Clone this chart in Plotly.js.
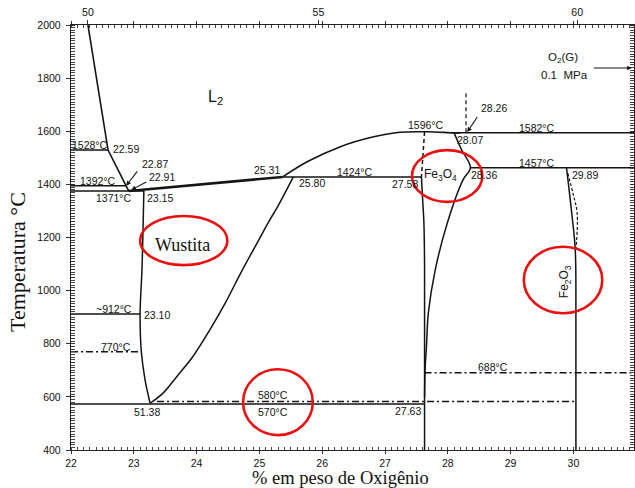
<!DOCTYPE html>
<html>
<head>
<meta charset="utf-8">
<script src="https://cdn.plot.ly/plotly-3.0.1.min.js"></script>
<style>html,body{margin:0;padding:0;background:#fff;}#chart{width:635px;height:488px;}</style>
</head>
<body>
<div id="chart"></div>
<script>
// ---- Phase boundary data (wt% O, °C) ----
const liqLeftX = [22.27, 22.59, 22.92];
const liqLeftY = [2000, 1529, 1375];

const h1528X = [22.0, 22.59];   const h1528Y = [1529, 1529];
const h1392X = [22.0, 22.88];   const h1392Y = [1395, 1395];
const h1371X = [22.0, 23.16];   const h1371Y = [1375, 1375];
const h912X  = [22.0, 23.10];   const h912Y  = [912, 912];
const h770X  = [22.0, 23.12];   const h770Y  = [770, 770];
const h570X  = [22.0, 27.63];   const h570Y  = [573, 573];
const h580X  = [23.37, 30.04];  const h580Y  = [583, 583];
const h680X  = [27.63, 30.97];  const h680Y  = [691, 691];
const h1424X = [25.37, 27.58];  const h1424Y = [1428, 1428];
const h1582X = [28.10, 30.97];  const h1582Y = [1594, 1594];
const h1457X = [28.36, 30.97];  const h1457Y = [1463, 1463];

const wusLiqX = [22.92, 25.37];
const wusLiqY = [1375, 1428];

const wusLeftX = [23.16, 23.13, 23.10, 23.12, 23.18, 23.26];
const wusLeftY = [1375, 1078, 912, 770, 663, 576];

const wusRightX = [25.54, 25.30, 25.15, 24.93, 24.70, 24.46, 24.21, 23.95, 23.69, 23.47, 23.26];
const wusRightY = [1428, 1320, 1260, 1165, 1065, 955, 852, 755, 678, 615, 576];

const magLiqX = [25.37, 25.76, 26.29, 26.82, 27.24, 27.67, 28.09, 28.20];
const magLiqY = [1428, 1485, 1542, 1579, 1596, 1598, 1594, 1594];

const magLeftDashX = [27.63, 27.61, 27.58];
const magLeftDashY = [1597, 1510, 1428];
const magLeftX = [27.58, 27.60, 27.62, 27.63, 27.63, 27.63];
const magLeftY = [1428, 1340, 1250, 1100, 800, 400];

const magRightX = [28.10, 28.22, 28.36, 28.24, 27.99, 27.80, 27.69, 27.66, 27.64, 27.63];
const magRightY = [1594, 1530, 1463, 1416, 1253, 1078, 915, 789, 713, 600];

const vDashX = [28.29, 28.29];
const vDashY = [1743, 1596];

const hemX = [29.89, 29.98, 30.03, 30.04, 30.04];
const hemY = [1463, 1278, 1153, 900, 400];
const hemDashX = [29.91, 30.00, 30.06, 30.04];
const hemDashY = [1442, 1360, 1291, 1150];

// ---- Text labels ----
const labText = ['1528°C','22.59','1392°C','1371°C','23.15','22.87','22.91',
  '25.31','25.80','1424°C','27.58','1596°C','28.07','28.26','1582°C','1457°C','28.36','29.89',
  '~912°C','23.10','770°C','51.38','580°C','570°C','27.63','688°C','O<sub>2</sub>(G)','0.1  MPa'];
const labX = [22.30, 22.63, 22.43, 22.69, 23.41, 23.33, 23.45,
  25.12, 25.83, 26.53, 27.32, 27.66, 28.36, 28.74, 29.42, 29.42, 28.58, 30.19,
  22.69, 23.37, 22.72, 23.21, 25.21, 25.21, 27.36, 28.72, 29.84, 29.86];
const labY = [1550, 1533, 1413, 1347, 1348, 1477, 1428,
  1454, 1404, 1448, 1401, 1624, 1567, 1686, 1611, 1481, 1435, 1435,
  930, 908, 788, 544, 607, 544, 547, 713, 1876, 1812];
const labSize = [10.5, 10.5, 10.5, 10.5, 10.5, 10.5, 10.5,
  10.5, 10.5, 10.5, 10.5, 10.5, 10.5, 10.5, 10.5, 10.5, 10.5, 10.5,
  10.5, 10.5, 10.5, 10.5, 10.5, 10.5, 10.5, 10.5, 11.5, 11.5];
const labAnchor = ['center','left','center','center','center','center','center',
  'center','center','center','center','center','center','center','center','center','center','center',
  'center','center','center','center','center','center','center','center','center','center'];

// region / phase labels
const phaseText = ['L<sub>2</sub>', 'Fe<sub>3</sub>O<sub>4</sub>', 'Fe<sub>2</sub>O<sub>3</sub>'];
const phaseX = [24.30, 27.88, 29.86];
const phaseY = [1728, 1435, 1034];
const phaseSize = [16, 12, 12];
const phaseAngle = [0, 0, -90];

const bigText = ['Wustita'];
const bigX = [23.77]; const bigY = [1172];

// Red highlight ellipses
const ellX0 = [23.10, 27.43, 29.21, 24.74];
const ellX1 = [24.49, 28.55, 30.46, 25.85];
const ellY0 = [1096, 1334, 915, 456];
const ellY1 = [1281, 1529, 1165, 704];

// top axis (atomic % O) labels at their wt% positions
const topTickText = ['50', '55', '60'];
const topTickPos = [22.27, 25.94, 30.06];

const xTickVals = [22,23,24,25,26,27,28,29,30,31];
const yTickVals = [400,600,800,1000,1200,1400,1600,1800,2000];

const INK = '#141414';
const DD = '7px,3px,2px,3px';
function ln(x, y, opt) {
  opt = opt || {};
  return {x: x, y: y, type: 'scatter', mode: 'lines', hoverinfo: 'skip', showlegend: false,
    line: {color: INK, width: opt.w || 1.5, dash: opt.dash || 'solid', shape: opt.shape || 'linear'}};
}
const traces = [
  ln(liqLeftX, liqLeftY, {w: 1.6}),
  ln(h1528X, h1528Y), ln(h1392X, h1392Y), ln(h1371X, h1371Y),
  ln(h912X, h912Y), ln(h770X, h770Y, {dash: DD}), ln(h570X, h570Y),
  ln(h580X, h580Y, {dash: DD}), ln(h680X, h680Y, {dash: DD}),
  ln(h1424X, h1424Y), ln(h1582X, h1582Y), ln(h1457X, h1457Y),
  ln(wusLiqX, wusLiqY, {w: 2.6}),
  ln(wusLeftX, wusLeftY, {shape: 'spline'}),
  ln(wusRightX, wusRightY, {shape: 'spline'}),
  ln(magLiqX, magLiqY, {shape: 'spline', w: 1.6}),
  ln(magLeftDashX, magLeftDashY, {dash: '4px,3px'}),
  ln(magLeftX, magLeftY, {shape: 'spline'}),
  ln(magRightX, magRightY, {shape: 'spline'}),
  ln(vDashX, vDashY, {dash: '4px,3px', w: 1.2}),
  ln(hemX, hemY, {shape: 'spline'}),
  ln(hemDashX, hemDashY, {shape: 'spline', dash: '3px,2px', w: 1.2}),
  {x: [], y: [], xaxis: 'x2', yaxis: 'y', type: 'scatter', showlegend: false}
];

const sans = 'Liberation Sans, Arial, sans-serif';
const serif = 'Liberation Serif, Times New Roman, serif';
const annotations = [];
for (let i = 0; i < labText.length; i++) {
  annotations.push({x: labX[i], y: labY[i], xref: 'x', yref: 'y', text: labText[i], showarrow: false,
    xanchor: labAnchor[i], yanchor: 'middle', font: {family: sans, size: labSize[i], color: INK}});
}
for (let i = 0; i < phaseText.length; i++) {
  annotations.push({x: phaseX[i], y: phaseY[i], xref: 'x', yref: 'y', text: phaseText[i], showarrow: false,
    textangle: phaseAngle[i], font: {family: sans, size: phaseSize[i], color: INK}});
}
for (let i = 0; i < bigText.length; i++) {
  annotations.push({x: bigX[i], y: bigY[i], xref: 'x', yref: 'y', text: bigText[i], showarrow: false,
    font: {family: serif, size: 18, color: '#111'}});
}
// pointer arrows
const arrows = [
  {x: 22.88, y: 1395, ax: 13, ay: -17},
  {x: 22.96, y: 1379, ax: 17, ay: -9},
  {x: 28.31, y: 1597, ax: 12, ay: -18},
  {x: 30.93, y: 1838, ax: -40, ay: 0}
];
arrows.forEach(a => annotations.push({x: a.x, y: a.y, xref: 'x', yref: 'y', ax: a.ax, ay: a.ay, text: ' ',
  showarrow: true, arrowhead: 2, arrowsize: 0.85, arrowwidth: 1.1, arrowcolor: INK,
  font: {size: 2}}));

const W = 635, H = 488, ML = 71, MR = 1, MT = 25, MB = 38;
const pw = W - ML - MR, ph = H - MT - MB;
// axis titles (placed in paper coordinates)
annotations.push({x: (340 - ML) / pw, y: 1 - (478 - MT) / ph, xref: 'paper', yref: 'paper',
  text: '% em peso de Oxigênio', showarrow: false, xanchor: 'center', yanchor: 'middle', borderpad: 0,
  font: {family: serif, size: 18.5, color: '#111'}});
annotations.push({x: (17 - ML) / pw, y: 1 - (262 - MT) / ph, xref: 'paper', yref: 'paper',
  text: 'Temperatura °C', showarrow: false, textangle: -90, xanchor: 'center', yanchor: 'middle',
  font: {family: serif, size: 22, color: '#111'}});

const shapes = [];
for (let i = 0; i < ellX0.length; i++) {
  shapes.push({type: 'circle', xref: 'x', yref: 'y', x0: ellX0[i], x1: ellX1[i], y0: ellY0[i], y1: ellY1[i],
    line: {color: 'rgb(232,16,16)', width: 2.6}});
}

const tickFont = {family: sans, size: 10.5, color: '#111'};
const layout = {
  width: W, height: H,
  margin: {l: ML, r: MR, t: MT, b: MB, pad: 0},
  paper_bgcolor: '#fff', plot_bgcolor: '#fff',
  showlegend: false,
  xaxis: {range: [22, 22 + pw / 62.8], tickvals: xTickVals, ticks: 'outside', ticklen: 3, tickwidth: 1,
    tickcolor: '#333', showline: true, linecolor: '#222', linewidth: 1.2, mirror: 'allticks',
    showgrid: false, zeroline: false, tickfont: tickFont,
    minor: {dtick: 0.1, ticks: 'inside', ticklen: 3, tickcolor: '#444', tickwidth: 1}},
  xaxis2: {overlaying: 'x', side: 'top', range: [22, 22 + pw / 62.8], tickvals: topTickPos, ticktext: topTickText,
    ticks: 'outside', ticklen: 4, tickcolor: '#333', showline: false, showgrid: false, zeroline: false, tickfont: tickFont},
  yaxis: {range: [400, 2000], tickvals: yTickVals, ticks: 'outside', ticklen: 4, tickwidth: 1, tickcolor: '#333',
    showline: true, linecolor: '#222', linewidth: 1.2, mirror: 'allticks', showgrid: false, zeroline: false,
    tickfont: tickFont, ticklabelstandoff: 3,
    minor: {dtick: 10, ticks: 'inside', ticklen: 3, tickcolor: '#444', tickwidth: 1}},
  annotations: annotations,
  shapes: shapes
};
Plotly.newPlot('chart', traces, layout, {staticPlot: true, displayModeBar: false});
</script>
</body>
</html>
